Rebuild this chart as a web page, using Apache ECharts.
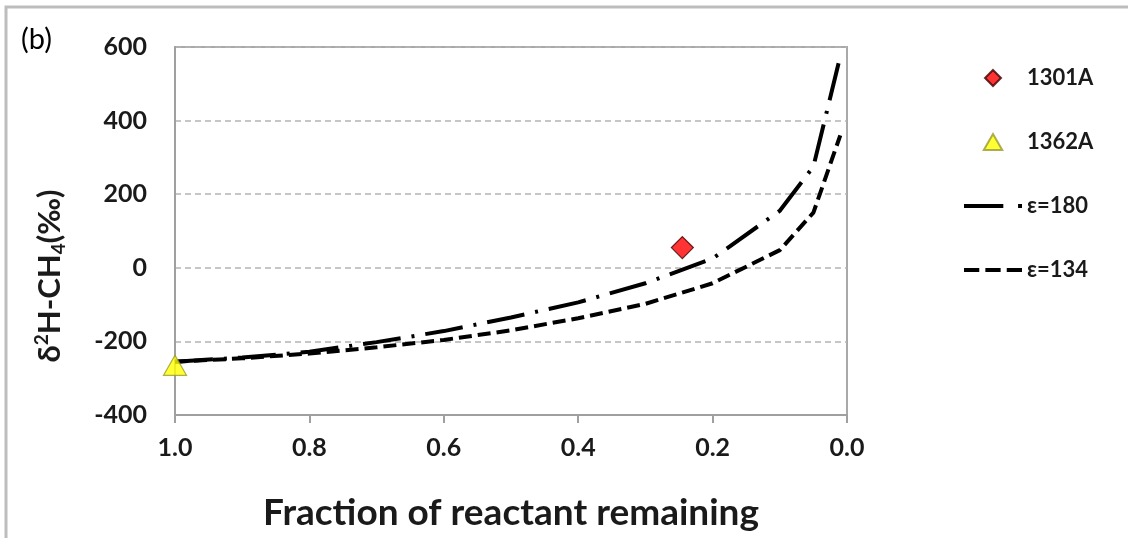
<!DOCTYPE html>
<html>
<head>
<meta charset="utf-8">
<script src="https://cdn.jsdelivr.net/npm/echarts@6/dist/echarts.min.js"></script>
<style>
html,body{margin:0;padding:0;background:#fff;}
#chart{width:1128px;height:538px;}
</style>
</head>
<body>
<div id="chart"></div>
<script>
// ---- data ----
const fraction = [1.0, 0.9, 0.8, 0.7, 0.6, 0.5, 0.4, 0.3, 0.2, 0.1, 0.05, 0.01];
const eps180 = [-255, -244, -228, -202, -172, -135, -94, -42, 25, 155, 275, 575];
const eps134 = [-255, -246, -233, -216, -196, -170, -137, -98, -42, 48, 150, 360];
const sample1301A = [[0.245, 55]];
const sample1362A = [[1.0, -265]];
const xTicks = ['1.0', '0.8', '0.6', '0.4', '0.2', '0.0'];
const yTicks = ['-400', '-200', '0', '200', '400', '600'];
const seriesNames = ['1301A', '1362A', 'ε=180', 'ε=134'];

const pairs = (xs, ys) => xs.map((x, i) => [x, ys[i]]);
const FONT = 'Lato';

// legend icon shapes (styling only)
const legendIcons = [
  'path://M8,0L16,8L8,16L0,8Z',
  'path://M8,1L15.5,14L0.5,14Z',
  'path://M0,0H40V4H0Z M55,0H59V4H55Z',
  'path://M0,0H15V4H0Z M21,0H36V4H21Z M42,0H57V4H42Z'
];

const chart = echarts.init(document.getElementById('chart'), null, {renderer: 'canvas'});
chart.setOption({
  animation: false,
  backgroundColor: '#fff',
  grid: {left: 175, right: 281, top: 47, bottom: 123, show: true, borderColor: '#a9a9a9', borderWidth: 2, backgroundColor: 'transparent'},
  xAxis: {
    type: 'value', inverse: true, min: 0, max: 1, interval: 0.2,
    name: 'Fraction of reactant remaining', nameLocation: 'middle', nameGap: 80,
    nameTextStyle: {fontFamily: FONT, fontSize: 37, fontWeight: 'bold', color: '#1a1a1a'},
    axisLine: {show: true, onZero: false, lineStyle: {color: '#a0a0a0', width: 2}},
    axisTick: {show: true, length: 8, lineStyle: {color: '#a0a0a0', width: 2}},
    axisLabel: {margin: 20, fontFamily: FONT, fontSize: 25, fontWeight: 'bold', color: '#1a1a1a',
      formatter: v => xTicks[Math.round((1 - v) / 0.2)]},
    splitLine: {show: false}
  },
  yAxis: {
    type: 'value', min: -400, max: 600, interval: 200,
    axisLine: {show: true, onZero: false, lineStyle: {color: '#a0a0a0', width: 2}},
    axisTick: {show: false},
    axisLabel: {margin: 28, fontFamily: FONT, fontSize: 25, fontWeight: 'bold', color: '#1a1a1a',
      formatter: v => yTicks[Math.round((v + 400) / 200)]},
    splitLine: {show: true, lineStyle: {color: '#b4b4b4', width: 1.5, type: [6, 4]}}
  },
  legend: {
    orient: 'vertical', left: 959, top: 62,
    itemWidth: 58, itemHeight: 16, itemGap: 42,
    data: seriesNames.map((n, i) => ({name: n, icon: legendIcons[i]})),
    textStyle: {fontFamily: FONT, fontSize: 22, fontWeight: 'bold', color: '#1a1a1a', lineHeight: 18}
  },
  graphic: [
    {type: 'rect', silent: true, shape: {x: 6, y: 7, width: 1200, height: 700},
      style: {fill: 'none', stroke: '#bdbdbd', lineWidth: 3}},
    {type: 'text', x: 21, y: 25, style: {text: '(b)', fontFamily: FONT, fontSize: 29, fill: '#000'}},
    {type: 'text', x: 50, y: 276, rotation: Math.PI / 2,
      style: {
        text: '{b|δ}{sup|2}{b|H-CH}{sub|4}{b|(‰)}',
        align: 'center', verticalAlign: 'middle',
        rich: {
          b: {fontFamily: FONT, fontSize: 31, fontWeight: 'bold', fill: '#1a1a1a', lineHeight: 36},
          sup: {fontFamily: FONT, fontSize: 19, fontWeight: 'bold', fill: '#1a1a1a', verticalAlign: 'top', lineHeight: 24},
          sub: {fontFamily: FONT, fontSize: 19, fontWeight: 'bold', fill: '#1a1a1a', verticalAlign: 'bottom', lineHeight: 24}
        }
      }}
  ],
  series: [
    {name: seriesNames[0], type: 'scatter', data: sample1301A, symbol: 'diamond', symbolSize: 22, z: 5,
      itemStyle: {color: '#ff0000', borderColor: '#3a0000', borderWidth: 1.2}},
    {name: seriesNames[1], type: 'scatter', data: sample1362A, symbol: 'triangle', symbolSize: [23, 20], z: 5,
      itemStyle: {color: '#ffff00', borderColor: '#9a9a30', borderWidth: 1.2}},
    {name: seriesNames[2], type: 'line', data: pairs(fraction, eps180), symbol: 'none', z: 3,
      lineStyle: {color: '#000', width: 4, type: [38, 11, 3, 11]},
      itemStyle: {color: '#000'}},
    {name: seriesNames[3], type: 'line', data: pairs(fraction, eps134), symbol: 'none', z: 3,
      lineStyle: {color: '#000', width: 4, type: [13, 6]},
      itemStyle: {color: '#000'}}
  ]
});
</script>
</body>
</html>
